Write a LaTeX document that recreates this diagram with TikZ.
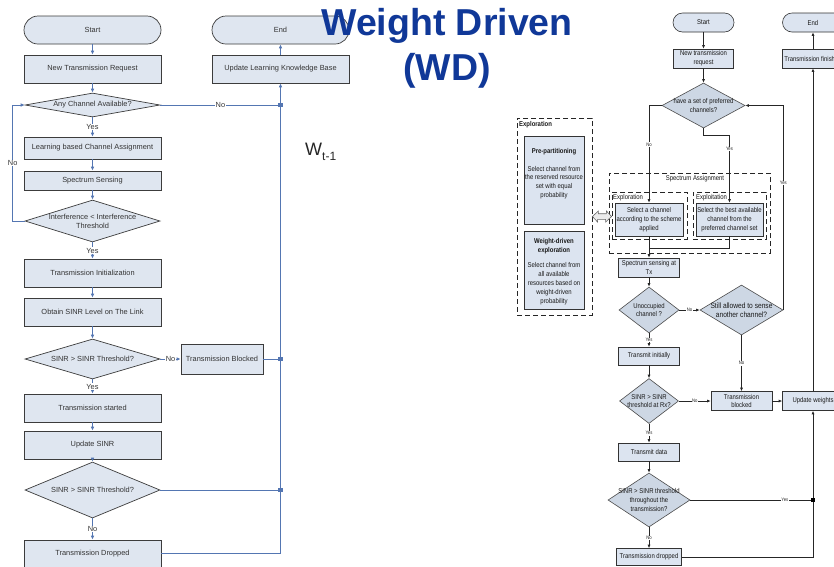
\documentclass[tikz,border=0pt]{standalone}
\usepackage{fontspec}
\setmainfont{Liberation Sans}
\newfontfamily\narrowfont[FakeStretch=0.85]{Liberation Sans}
\usetikzlibrary{shapes.geometric,arrows.meta}

\definecolor{lfill}{RGB}{223,230,240}
\definecolor{ledge}{RGB}{60,60,60}
\definecolor{lwirec}{RGB}{84,118,178}
\definecolor{rfill}{RGB}{220,228,240}
\definecolor{rdiafill}{RGB}{205,215,228}
\definecolor{titleblue}{RGB}{16,56,152}

\tikzset{
  % left-hand flowchart
  ltext/.style={font=\fontsize{7.4}{9}\selectfont, text=black!80, align=center},
  lbox/.style={draw=ledge, fill=lfill, line width=0.7pt, minimum width=137, minimum height=28, inner sep=1pt, ltext},
  lterm/.style={lbox, rounded corners=14pt},
  ldia/.style={draw=ledge, fill=lfill, line width=0.7pt, diamond, inner sep=0pt, minimum width=135},
  lwire/.style={draw=lwirec, line width=0.8pt},
  larrow/.style={lwire, -{Latex[length=4pt,width=3.6pt]}},
  ltag/.style={font=\fontsize{7.4}{9}\selectfont, text=black!80, fill=white, inner sep=0.8pt},
  ljunc/.style={fill=lwirec, minimum size=4.2pt, inner sep=0pt},
  % right-hand flowchart
  rtext/.style={font=\narrowfont\fontsize{7}{8.8}\selectfont, text=black!90, align=center},
  rbox/.style={draw=black!80, fill=rfill, line width=0.6pt, minimum width=61, minimum height=19, inner sep=0.5pt, rtext},
  rterm/.style={rbox, rounded corners=9.5pt},
  rdia/.style={draw=black!70, fill=rdiafill, line width=0.6pt, diamond, inner sep=0pt},
  rwire/.style={draw=black!85, line width=0.7pt},
  rarrow/.style={rwire, -{Latex[length=3.5pt,width=3pt]}},
  rtag/.style={font=\narrowfont\fontsize{5}{6}\selectfont, text=black!85, fill=white, inner sep=0.5pt},
  rjunc/.style={fill=black, minimum size=3.8pt, inner sep=0pt},
  dashbox/.style={draw=black!85, dash pattern=on 5pt off 3pt, line width=0.8pt, inner sep=0pt},
  hollowarrow/.style={draw=black!60, fill=black!8, line width=0.6pt},
  titletext/.style={font=\bfseries\fontsize{37.5}{45}\selectfont, text=titleblue, inner sep=0pt},
}

\begin{document}
\begin{tikzpicture}[x=1pt,y=-1pt]
\clip (0,0) rectangle (834,566);
\fill[white] (0,0) rectangle (834,566);

% ---------------- left flowchart ----------------
\node[lterm] (startL) at (92.5,30) {Start};
\node[lbox] (ntr) at (92.5,69) {New Transmission Request};
\node[ldia, minimum height=24, label={[ltext]center:Any Channel Available?}] (dAny) at (92.5,105) {};
\node[lbox, minimum height=22] (lca) at (92.5,148) {Learning based Channel Assignment};
\node[lbox, minimum height=19] (ss) at (92.5,180.5) {Spectrum Sensing};
\node[ldia, minimum height=42, label={[ltext]center:Interference < Interference\\Threshold}] (dInt) at (92.5,221) {};
\node[lbox] (tinit) at (92.5,273) {Transmission Initialization};
\node[lbox] (sinr) at (92.5,312) {Obtain SINR Level on The Link};
\node[ldia, minimum height=40, label={[ltext]center:SINR > SINR Threshold?}] (dS1) at (92.5,359) {};
\node[lbox, minimum width=82, minimum height=30] (tblk) at (222,359) {Transmission Blocked};
\node[lbox] (tstart) at (92.5,408) {Transmission started};
\node[lbox] (usinr) at (92.5,445) {Update SINR};
\node[ldia, minimum height=56, label={[ltext]center:SINR > SINR Threshold?}] (dS2) at (92.5,490) {};
\node[lbox, minimum height=27] (tdrop) at (92.5,553.5) {Transmission Dropped};
\node[lterm] (endL) at (280.5,30) {End};
\node[lbox] (ulkb) at (280.5,69) {Update Learning Knowledge Base};

\draw[larrow] (startL) -- (ntr);
\draw[larrow] (ntr) -- (dAny.north);
\draw[larrow] (dAny.south) -- node[ltag]{Yes} (lca.north);
\draw[larrow] (lca) -- (ss);
\draw[larrow] (ss) -- (dInt.north);
\draw[larrow] (dInt.south) -- node[ltag]{Yes} (tinit.north);
\draw[larrow] (tinit) -- (sinr);
\draw[larrow] (sinr) -- (dS1.north);
\draw[larrow] (dS1.east) -- node[ltag]{No} (tblk.west);
\draw[larrow] (dS1.south) -- node[ltag]{Yes} (tstart.north);
\draw[larrow] (tstart) -- (usinr);
\draw[larrow] (usinr) -- (dS2.north);
\draw[larrow] (dS2.south) -- node[ltag]{No} (tdrop.north);
\draw[larrow] (dInt.west) -- ++(-12,0) |- node[ltag, pos=0.25]{No} (dAny.west);

\draw[lwire] (dAny.east) -- node[ltag]{No} (dAny.east -| ulkb.south);
\draw[lwire] (tblk.east) -- (tblk.east -| ulkb.south);
\draw[lwire] (dS2.east) -- (dS2.east -| ulkb.south);
\draw[larrow] (tdrop.east) -| (ulkb.south);
\draw[larrow] (ulkb) -- (endL);
\node[ljunc] (jL1) at (dAny.east -| ulkb.south) {};
\node[ljunc] (jL2) at (tblk.east -| ulkb.south) {};
\node[ljunc] (jL3) at (dS2.east -| ulkb.south) {};

% ---------------- right flowchart ----------------
\node[dashbox, minimum width=75, minimum height=197] (exploreBox) at (554.5,216.5) {};
\node[rtext, font=\narrowfont\bfseries\fontsize{7}{8.8}\selectfont, anchor=north west, inner sep=0pt] (exploreTitle) at (519,121) {Exploration};
\node[rbox, minimum width=60, minimum height=88,
      label={[rtext, anchor=north, yshift=-9pt]north:\textbf{Pre-partitioning}\\[9pt]Select channel from\\the reserved resource\\set with equal\\probability}] (prep) at (554,180) {};
\node[rbox, minimum width=60, minimum height=78,
      label={[rtext, anchor=north, yshift=-4pt]north:\textbf{Weight-driven}\\\textbf{exploration}\\[7pt]Select channel from\\all available\\resources based on\\weight-driven\\probability}] (wdx) at (554,270) {};

\node[dashbox, minimum width=161, minimum height=80] (saBox) at (689.5,213) {};
\node[rtext] (saTitle) at (695,179) {Spectrum Assignment};
\node[dashbox, minimum width=75, minimum height=47] (exrBox) at (649.5,215.5) {};
\node[dashbox, minimum width=73, minimum height=47] (exiBox) at (729.5,215.5) {};
\node[rtext, anchor=west, inner sep=0pt] (exrTitle) at (613,198) {Exploration};
\node[rtext, anchor=west, inner sep=0pt] (exiTitle) at (696,198) {Exploitation};

% hollow two-headed arrow between the exploration schemes and the assignment block
\path (exploreBox.east) coordinate (da1) (exploreBox.east -| exrBox.west) coordinate (da2);
\draw[hollowarrow] (da1) -- ++(6,-5.5) -- ++(0,2.7) -- ++(8,0) -- ++(0,-2.7) -- (da2)
  -- ++(-6,5.5) -- ++(0,-2.7) -- ++(-8,0) -- ++(0,2.7) -- cycle;

\node[rterm] (startR) at (703.5,22.5) {Start};
\node[rbox, minimum width=60] (ntrR) at (703.5,58.5) {New transmission\\request};
\node[rdia, minimum width=83, minimum height=45, label={[rtext]center:have a set of preferred\\channels?}] (dPref) at (703.5,105.5) {};
\node[rterm] (endR) at (813,22.5) {End};
\node[rbox] (tfin) at (813,58.5) {Transmission finished};

\node[rbox, minimum width=68, minimum height=33] (explBox) at (649,219.5) {Select a channel\\according to the scheme\\applied};
\node[rbox, minimum width=67, minimum height=33] (exploitBox) at (729.5,219.5) {Select the best available\\channel from the\\preferred channel set};
\node[rbox] (sst) at (649,267.5) {Spectrum sensing at\\Tx};
\node[rdia, minimum width=60, minimum height=46, label={[rtext]center:Unoccupied\\channel ?}] (dUn) at (649,310) {};
\node[rdia, minimum width=83, minimum height=50, label={[rtext, font=\narrowfont\fontsize{7.8}{9.2}\selectfont]center:Still allowed to sense\\another channel?}] (dStill) at (741.5,310) {};
\node[rbox, minimum height=18] (tinitR) at (649,356) {Transmit initially};
\node[rdia, minimum width=59, minimum height=45, label={[rtext]center:SINR > SINR\\threshold at Rx?}] (dRx) at (649,401) {};
\node[rbox] (tblkR) at (741.5,401) {Transmission\\blocked};
\node[rbox] (uw) at (813,401) {Update weights};
\node[rbox, minimum height=18] (tdata) at (649,452) {Transmit data};
\node[rdia, minimum width=82, minimum height=54, label={[rtext]center:SINR > SINR threshold\\throughout the\\transmission?}] (dThr) at (649,500) {};
\node[rbox, minimum width=65, minimum height=17] (tdropR) at (649,557) {Transmission dropped};

\coordinate (merge) at (649,248);
\draw[rarrow] (startR) -- (ntrR);
\draw[rarrow] (ntrR) -- (dPref.north);
\draw[rarrow] (dPref.west) -| node[rtag, pos=0.7]{No} (explBox.north);
\draw[rarrow] (dPref.south) -- ++(0,7) -| node[rtag, pos=0.6]{Yes} (exploitBox.north);
\draw[rwire] (exploitBox.south) |- (merge);
\draw[rarrow] (explBox) -- (sst);
\draw[rarrow] (sst) -- (dUn.north);
\draw[rarrow] (dUn.east) -- node[rtag]{No} (dStill.west);
\draw[rarrow] (dUn.south) -- node[rtag]{Yes} (tinitR.north);
\draw[rarrow] (dStill.south) -- node[rtag]{No} (tblkR.north);
\draw[rarrow] (dStill.east) |- node[rtag, pos=0.31]{Yes} (dPref.east);
\draw[rarrow] (tinitR) -- (dRx.north);
\draw[rarrow] (dRx.east) -- node[rtag]{No} (tblkR.west);
\draw[rarrow] (dRx.south) -- node[rtag]{Yes} (tdata.north);
\draw[rarrow] (tblkR) -- (uw);
\draw[rarrow] (tdata) -- (dThr.north);
\draw[rarrow] (dThr.south) -- node[rtag]{No} (tdropR.north);
\draw[rwire] (dThr.east) -- node[rtag, pos=0.77]{Yes} (dThr.east -| uw.south);
\draw[rarrow] (tdropR.east) -| (uw.south);
\draw[rarrow] (uw) -- (tfin);
\draw[rarrow] (tfin) -- (endR);
\node[rjunc] (jR1) at (dThr.east -| uw.south) {};

% ---------------- headings ----------------
\node[titletext, anchor=base] (title1) at (447,35) {Weight Driven};
\node[titletext, anchor=base] (title2) at (447,80) {(WD)};
\node[anchor=base west, inner sep=0pt, font=\fontsize{18}{20}\selectfont, text=black!85] (wlabel) at (305,155)
  {W\raisebox{-5pt}{\fontsize{12}{14}\selectfont t-1}};
\end{tikzpicture}
\end{document}
